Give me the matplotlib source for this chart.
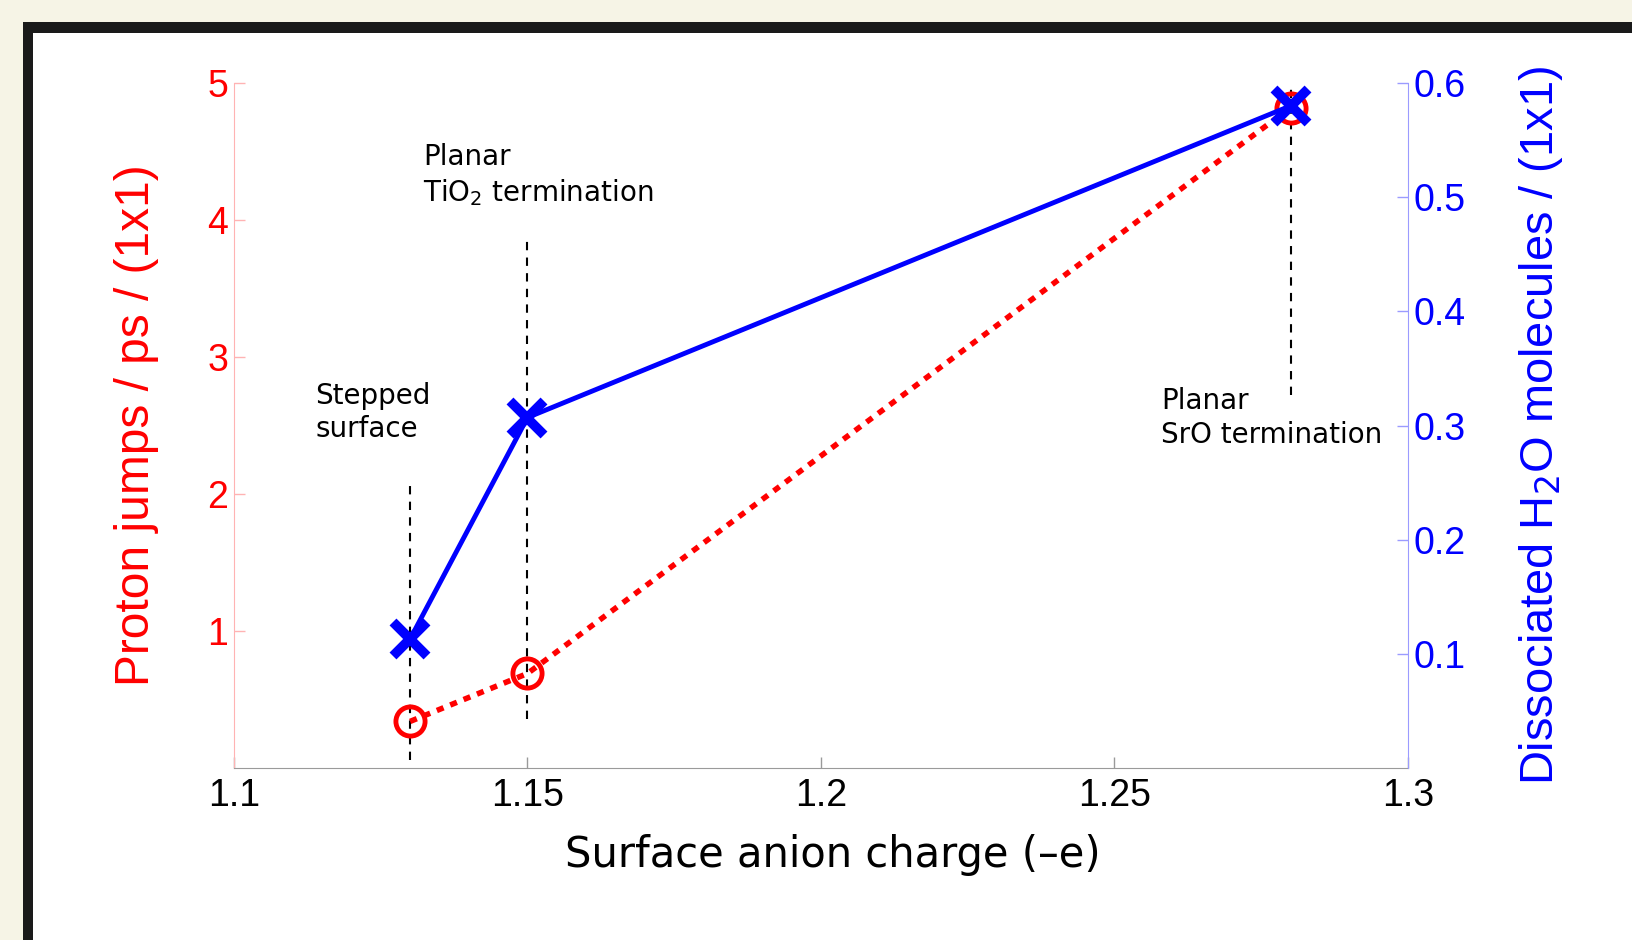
import matplotlib
matplotlib.use("Agg")
import matplotlib.pyplot as plt
from matplotlib.patches import Rectangle

# data
charge = [1.13, 1.15, 1.28]
proton_jumps = [0.34, 0.69, 4.82]
dissociated = [0.113, 0.307, 0.580]

# dashed guide lines: x, y-start, y-end (left-axis units)
guide_x = [1.13, 1.15, 1.28]
guide_y0 = [0.06, 0.36, 2.72]
guide_y1 = [2.09, 3.87, 5.0]

labels = ["Stepped\nsurface", "Planar\nTiO$_2$ termination", "Planar\nSrO termination"]
label_x = [1.1138, 1.1322, 1.2580]
label_y = [2.82, 4.56, 2.78]

W, H = 1633, 940
cream = "#f6f4e6"
fig = plt.figure(figsize=(W / 100, H / 100), dpi=100, facecolor=cream)

# black frame around a white panel
fig.add_artist(Rectangle((23 / W, -0.1), 2, (H - 22) / H + 0.1,
                         transform=fig.transFigure, facecolor="#1a1a1a", edgecolor="none", zorder=-2))
fig.add_artist(Rectangle((33 / W, -0.1), 2, (H - 33) / H + 0.1,
                         transform=fig.transFigure, facecolor="white", edgecolor="none", zorder=-1))

ax = fig.add_axes([234 / W, (H - 768) / H, (1408 - 234) / W, (768 - 83) / H])
ax.patch.set_alpha(0)
ax2 = ax.twinx()

tick_font = "Liberation Sans"

for xv, y0, y1 in zip(guide_x, guide_y0, guide_y1):
    ax.plot([xv, xv], [y0, y1], color="black", lw=1.5, dashes=(4, 3.5), zorder=1)

ax.plot(charge, proton_jumps, color="red", ls=(0, (1.3, 1.3)), lw=4,
        marker="o", ms=21, mfc="none", mec="red", mew=3.5, zorder=2)
ax2.plot(charge, dissociated, color="blue", lw=3.5,
         marker="x", ms=24, mew=7, zorder=3)

ax.set_xlim(1.1, 1.3)
ax.set_ylim(0, 5)
ax2.set_ylim(0, 0.6)
ax.set_xticks([1.1, 1.15, 1.2, 1.25, 1.3])
ax.set_xticklabels(["1.1", "1.15", "1.2", "1.25", "1.3"])
ax.set_yticks([1, 2, 3, 4, 5])
ax2.set_yticks([0.1, 0.2, 0.3, 0.4, 0.5, 0.6])
ax2.set_yticklabels(["0.1", "0.2", "0.3", "0.4", "0.5", "0.6"])

for a in (ax, ax2):
    a.spines["top"].set_visible(False)
ax.spines["right"].set_visible(False)
ax2.spines["left"].set_visible(False)
ax2.spines["bottom"].set_visible(False)
ax.spines["left"].set_color("#ffb3b3")
ax.spines["bottom"].set_color("#9a9a9a")
ax2.spines["right"].set_color("#9b9bff")

ax.tick_params(axis="x", direction="in", length=8, width=1, color="#9a9a9a",
               pad=7, labelsize=27, labelcolor="black")
ax.tick_params(axis="y", direction="in", length=8, width=1, color="#ffb3b3",
               pad=4, labelsize=27, labelcolor="red")
ax2.tick_params(axis="y", direction="in", length=8, width=1, color="#9b9bff",
                pad=4, labelsize=27, labelcolor="blue")
for lab in ax.get_xticklabels() + ax.get_yticklabels() + ax2.get_yticklabels():
    lab.set_fontfamily(tick_font)

ax.set_xlabel("Surface anion charge (\u2013e)", fontsize=30, family="DejaVu Sans")
ax.set_ylabel("Proton jumps / ps / (1x1)", fontsize=34.5, family=tick_font, color="red")
ax2.set_ylabel("Dissociated H$_2$O molecules / (1x1)", fontsize=33.8, family=tick_font, color="blue")
ax.xaxis.set_label_coords(0.51, -0.097)
ax.yaxis.set_label_coords(-0.064, 0.5)
ax2.yaxis.set_label_coords(1.093, 0.5)

for txt, tx, ty in zip(labels, label_x, label_y):
    ax.text(tx, ty, txt, fontsize=20, family="DejaVu Sans", va="top", ha="left",
            linespacing=1.25)

fig.savefig("out.png", dpi=100, facecolor=cream)
